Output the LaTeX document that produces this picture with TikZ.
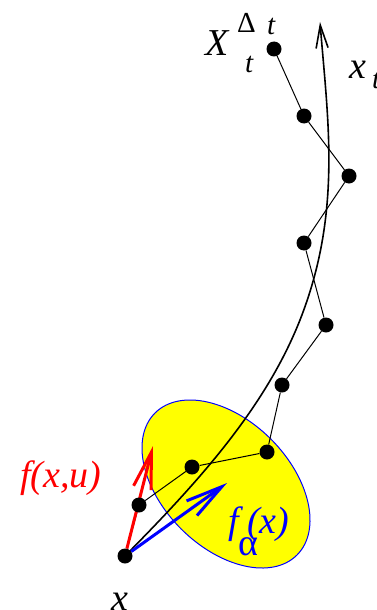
\documentclass[tikz,border=0pt]{standalone}
\usepackage{fontspec}
\setmainfont{Liberation Serif}
\usetikzlibrary{arrows.meta}
\definecolor{setyellow}{RGB}{255,255,0}
\pgfdeclarelayer{back}
\pgfsetlayers{back,main}
\newcommand{\supfont}{\fontsize{29}{32}\selectfont}

\begin{document}
\begin{tikzpicture}[x=1pt,y=-1pt,
  dot/.style={circle,fill=black,inner sep=0pt,minimum size=15pt},
  lbl/.style={inner sep=0pt,font=\fontsize{38}{42}\selectfont\itshape},
  vec/.style={line width=3pt,-{Straight Barb[length=37pt,width=18pt]}}]
  \useasboundingbox (0,0) rectangle (377,610);
  % points of the scheme
  \node[dot] (x0) at (125,556) {};
  \node[dot] (p1) at (139,505) {};
  \node[dot] (p2) at (192,467) {};
  \node[dot] (p3) at (267,452) {};
  \node[dot] (p4) at (282,385) {};
  \node[dot] (p5) at (326,325) {};
  \node[dot] (p6) at (304,243) {};
  \node[dot] (p7) at (349,176) {};
  \node[dot] (p8) at (304,116) {};
  \node[dot] (p9) at (274,49) {};
  \coordinate (xend) at (320,22);
  \coordinate (fuend) at (153,446);
  \coordinate (faend) at (227,483);
  \begin{pgfonlayer}{back}
    \filldraw[fill=setyellow,draw=blue,line width=1pt,shift={(226,484)},rotate=-45] (0,0) ellipse[x radius=100.4,y radius=63.5];
    \draw[line width=1.6pt,-{Straight Barb[length=23pt,width=12pt]}] (x0.center) .. controls (194,486) and (264,411) .. (300,320) .. controls (342,213) and (328,122) .. (xend);
    \draw[line width=1pt] (x0) -- (p1) -- (p2) -- (p3) -- (p4) -- (p5) -- (p6) -- (p7) -- (p8) -- (p9);
    \draw[vec,red] (x0) -- (fuend);
    \draw[vec,blue] (x0) -- (faend);
  \end{pgfonlayer}
  % labels
  \node[lbl,anchor=base west] (Xlab) at (205,56) {\rlap{X}\rlap{\kern32pt\raisebox{23pt}{\supfont\upshape Δ}}\rlap{\kern62pt\raisebox{21pt}{\supfont t}}\kern40pt\raisebox{-17pt}{\supfont t}};
  \node[lbl,anchor=base west] (xt) at (349,78) {\rlap{x}\kern23pt\raisebox{-10pt}{\supfont t}};
  \node[lbl,red] (fxu) at (61,478) {f(x,u)};
  \node[lbl,blue,anchor=base west] (fa) at (228,533) {\rlap{f}\rlap{\kern10pt\raisebox{-22pt}{\upshape α}}\kern19pt(x)};
  \node[lbl,anchor=base west] (xlab) at (111,610) {x};
\end{tikzpicture}
\end{document}
